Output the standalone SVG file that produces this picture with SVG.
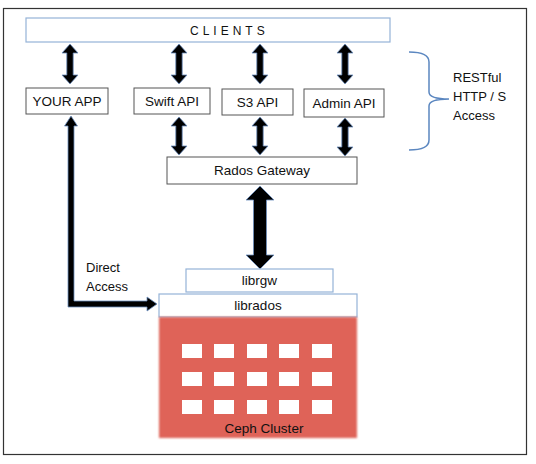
<svg xmlns="http://www.w3.org/2000/svg" width="536" height="464" viewBox="0 0 536 464">
<defs>
<style>
text{font-family:"Liberation Sans",Arial,sans-serif;font-size:13.5px;fill:#111}
.lbl{font-size:13px}
.box{fill:#fff;stroke:#555;stroke-width:1}
.bbox{fill:#fff;stroke:#95b3d7;stroke-width:1.2}
.arr{fill:#000;stroke:#6d8fbf;stroke-width:0.8;stroke-linejoin:miter}
.sq{fill:#fff;filter:url(#soft)}
</style>
<filter id="soft" x="-20%" y="-20%" width="140%" height="140%"><feGaussianBlur stdDeviation="0.7"/></filter>
<filter id="soft2" x="-5%" y="-5%" width="110%" height="110%"><feGaussianBlur stdDeviation="1"/></filter>
</defs>
<rect x="0" y="0" width="536" height="464" fill="#fff"/>
<rect x="3.5" y="8.5" width="523" height="446" fill="#fff" stroke="#333" stroke-width="1.2"/>

<g id="connectors">
<path class="arr" d="M70,44 L78,53 L73.2,53 L73.2,75 L78,75 L70,84 L62,75 L66.8,75 L66.8,53 L62,53 Z"/>
<path class="arr" d="M179,44 L187,53 L182.2,53 L182.2,75 L187,75 L179,84 L171,75 L175.8,75 L175.8,53 L171,53 Z"/>
<path class="arr" d="M260,44 L268,53 L263.2,53 L263.2,75 L268,75 L260,84 L252,75 L256.8,75 L256.8,53 L252,53 Z"/>
<path class="arr" d="M345,44 L353,53 L348.2,53 L348.2,75 L353,75 L345,84 L337,75 L341.8,75 L341.8,53 L337,53 Z"/>
<path class="arr" d="M179,117 L187,126 L182.2,126 L182.2,146 L187,146 L179,155 L171,146 L175.8,146 L175.8,126 L171,126 Z"/>
<path class="arr" d="M260,117 L268,126 L263.2,126 L263.2,146 L268,146 L260,155 L252,146 L256.8,146 L256.8,126 L252,126 Z"/>
<path class="arr" d="M345,118 L353,127 L348.2,127 L348.2,147 L353,147 L345,156 L337,147 L341.8,147 L341.8,127 L337,127 Z"/>
<path class="arr" d="M260,186 L274,200 L266.5,200 L266.5,255 L274,255 L260,269 L246,255 L253.5,255 L253.5,200 L246,200 Z"/>
<path class="arr" d="M71,116 L77.5,126 L74,126 L74,301 L147,301 L147,297 L157,304 L147,311 L147,307 L68,307 L68,126 L64.5,126 Z"/>
<path d="M409,52 Q429,52 429,62 L429,92 Q429,99 449,99 Q429,99 429,106 L429,140 Q429,150 409,150" fill="none" stroke="#5b87c0" stroke-width="1.5"/>
</g>

<g id="clients">
<rect class="bbox" x="26" y="18" width="364" height="24"/>
<text x="190" y="35" style="font-size:12px;letter-spacing:4px">CLIENTS</text>
</g>
<g id="your-app">
<rect class="box" x="26" y="88" width="82" height="26"/>
<text x="67" y="105.5" text-anchor="middle">YOUR APP</text>
</g>
<g id="swift-api">
<rect class="box" x="134" y="88" width="76" height="26"/>
<text x="172" y="105.5" text-anchor="middle">Swift API</text>
</g>
<g id="s3-api">
<rect class="box" x="222" y="89" width="71" height="26"/>
<text x="257.5" y="106.5" text-anchor="middle">S3 API</text>
</g>
<g id="admin-api">
<rect class="box" x="304" y="89" width="80" height="28"/>
<text x="344" y="107.5" text-anchor="middle">Admin API</text>
</g>
<g id="restful-label">
<text class="lbl" x="453" y="82">RESTful</text>
<text class="lbl" x="453" y="101">HTTP / S</text>
<text class="lbl" x="453" y="120">Access</text>
</g>
<g id="rados-gateway">
<rect class="box" x="167" y="157" width="190" height="27"/>
<text x="262" y="175" text-anchor="middle">Rados Gateway</text>
</g>
<g id="direct-access-label">
<text class="lbl" x="86" y="272">Direct</text>
<text class="lbl" x="86" y="291">Access</text>
</g>
<g id="librgw">
<rect class="bbox" x="186" y="269" width="147" height="23"/>
<text x="259.5" y="285" text-anchor="middle">librgw</text>
</g>
<g id="librados">
<rect class="bbox" x="159" y="294" width="198" height="23"/>
<text x="258" y="310" text-anchor="middle">librados</text>
</g>
<g id="ceph-cluster">
<rect x="159" y="317" width="198" height="121" fill="#df6359" filter="url(#soft2)"/>
<g>
<rect class="sq" x="182" y="344" width="20" height="14"/>
<rect class="sq" x="214" y="344" width="20" height="14"/>
<rect class="sq" x="247" y="344" width="20" height="14"/>
<rect class="sq" x="279" y="344" width="20" height="14"/>
<rect class="sq" x="312" y="344" width="20" height="14"/>
<rect class="sq" x="182" y="372" width="20" height="14"/>
<rect class="sq" x="214" y="372" width="20" height="14"/>
<rect class="sq" x="247" y="372" width="20" height="14"/>
<rect class="sq" x="279" y="372" width="20" height="14"/>
<rect class="sq" x="312" y="372" width="20" height="14"/>
<rect class="sq" x="182" y="400" width="20" height="14"/>
<rect class="sq" x="214" y="400" width="20" height="14"/>
<rect class="sq" x="247" y="400" width="20" height="14"/>
<rect class="sq" x="279" y="400" width="20" height="14"/>
<rect class="sq" x="312" y="400" width="20" height="14"/>
</g>
<text x="264" y="433" text-anchor="middle">Ceph Cluster</text>
</g>
</svg>
